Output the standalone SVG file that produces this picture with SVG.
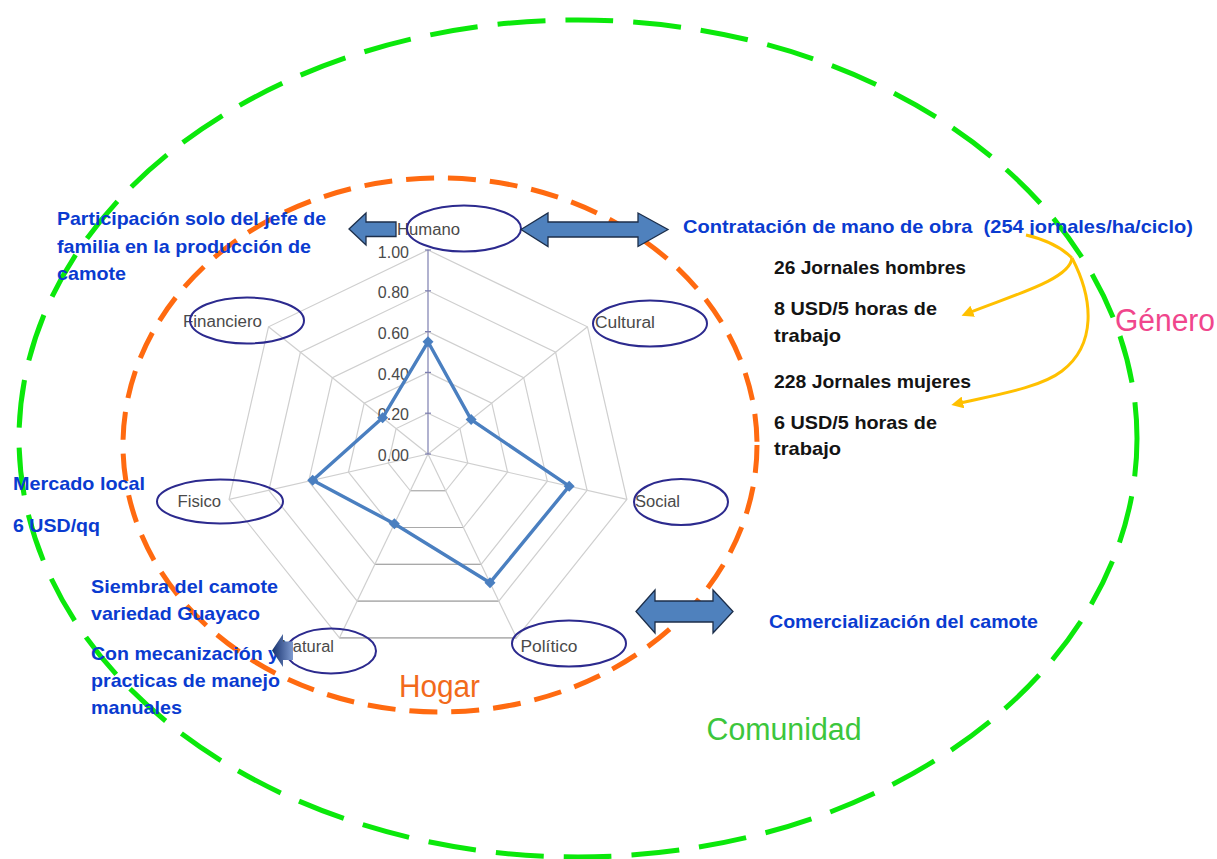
<svg xmlns="http://www.w3.org/2000/svg" width="1217" height="859" viewBox="0 0 1217 859">
  <style>
    .bg { fill: #ffffff; }
    .ring-green { fill: none; stroke: #0be80b; stroke-width: 5; stroke-dasharray: 48 20; }
    .ring-orange { fill: none; stroke: #ff6a10; stroke-width: 5; stroke-dasharray: 28 14; }
    .grid { fill: none; stroke: #cfcfcf; stroke-width: 1.2; }
    .grid-low { fill: none; stroke: #a9a9a9; stroke-width: 1.2; }
    .axis { stroke: #7d7fb0; stroke-width: 1.2; }
    .tick { font-family: "Liberation Sans", Arial, sans-serif; font-size: 16px; fill: #4a4a4a; text-anchor: end; }
    .cat-oval { fill: none; stroke: #2c2a8e; stroke-width: 2; }
    .cat { font-family: "Liberation Sans", Arial, sans-serif; font-size: 16px; fill: #4a4a4a; }
    .series { fill: none; stroke: #4a7fc0; stroke-width: 3.4; stroke-linejoin: round; }
    .pt { fill: #4a7fc0; }
    .note { font-family: "Liberation Sans", Arial, sans-serif; font-size: 18.5px; font-weight: bold; fill: #0a3bd0; }
    .dark { font-family: "Liberation Sans", Arial, sans-serif; font-size: 18.5px; font-weight: bold; fill: #141414; }
    .big { font-family: "Liberation Sans", Arial, sans-serif; font-size: 31px; }
    .block { fill: #4f81bd; stroke: #1c2e4a; stroke-width: 1.3; stroke-linejoin: miter; }
    .curve { fill: none; stroke: #ffc000; stroke-width: 3; }
  </style>
  <defs>
    <marker id="gold-head" viewBox="0 0 10 10" refX="6" refY="5" markerWidth="4" markerHeight="4" orient="auto-start-reverse">
      <path d="M0,0 L10,5 L0,10 z" fill="#ffc000"/>
    </marker>
    <linearGradient id="small-arrow" x1="0" y1="0" x2="1" y2="0">
      <stop offset="0" stop-color="#15306c"/>
      <stop offset="1" stop-color="#7e9ad0"/>
    </linearGradient>
    <path id="diamond" d="M0,-5.5 L5.5,0 L0,5.5 L-5.5,0 Z"/>
  </defs>

  <rect class="bg" x="0" y="0" width="1217" height="859"/>

  <!-- community and household boundaries -->
  <g id="comunidad-boundary">
    <ellipse class="ring-green" cx="578" cy="438.5" rx="559" ry="418.5" stroke-dashoffset="10"/>
  </g>
  <g id="hogar-boundary">
    <ellipse class="ring-orange" cx="440" cy="445" rx="317" ry="267"/>
  </g>

  <!-- radar chart: grid rings, spokes, value axis -->
  <g id="radar-grid">
    <polygon class="grid" points="428,413.2 459.9,428.56 467.78,463.08 445.7,490.76 410.3,490.76 388.22,463.08 396.1,428.56"/>
    <polygon class="grid" points="428,372.4 491.8,403.12 507.56,472.16 463.4,527.52 392.6,527.52 348.44,472.16 364.2,403.12"/>
    <polygon class="grid" points="428,331.6 523.69,377.69 547.33,481.23 481.11,564.28 374.89,564.28 308.67,481.23 332.31,377.69"/>
    <polygon class="grid" points="428,290.8 555.59,352.25 587.11,490.31 498.81,601.04 357.19,601.04 268.89,490.31 300.41,352.25"/>
    <polygon class="grid" points="428,250 587.49,326.81 626.89,499.39 516.51,637.8 339.49,637.8 229.11,499.39 268.51,326.81"/>
    <line class="grid-low" x1="410.3" y1="490.76" x2="445.7" y2="490.76"/>
    <line class="grid-low" x1="392.6" y1="527.52" x2="463.4" y2="527.52"/>
    <line class="grid-low" x1="374.89" y1="564.28" x2="481.11" y2="564.28"/>
    <line class="grid-low" x1="357.19" y1="601.04" x2="498.81" y2="601.04"/>
    <line class="grid-low" x1="339.49" y1="637.8" x2="516.51" y2="637.8"/>
    <line class="grid" x1="428" y1="454" x2="587.49" y2="326.81"/>
    <line class="grid" x1="428" y1="454" x2="626.89" y2="499.39"/>
    <line class="grid" x1="428" y1="454" x2="516.51" y2="637.8"/>
    <line class="grid" x1="428" y1="454" x2="339.49" y2="637.8"/>
    <line class="grid" x1="428" y1="454" x2="229.11" y2="499.39"/>
    <line class="grid" x1="428" y1="454" x2="268.51" y2="326.81"/>
    <line class="axis" x1="428" y1="454" x2="428" y2="250"/>
    <g class="axis">
      <line x1="425" y1="250" x2="431" y2="250"/>
      <line x1="425" y1="290.8" x2="431" y2="290.8"/>
      <line x1="425" y1="331.6" x2="431" y2="331.6"/>
      <line x1="425" y1="372.4" x2="431" y2="372.4"/>
      <line x1="425" y1="413.2" x2="431" y2="413.2"/>
      <line x1="425" y1="454" x2="431" y2="454"/>
    </g>
    <text class="tick" x="409" y="257.5">1.00</text>
    <text class="tick" x="409" y="298">0.80</text>
    <text class="tick" x="409" y="338.5">0.60</text>
    <text class="tick" x="409" y="379.5">0.40</text>
    <text class="tick" x="409" y="420">0.20</text>
    <text class="tick" x="409" y="461">0.00</text>
  </g>

  <!-- data series -->
  <g id="radar-series">
    <polygon class="series" points="428,341.8 471.1,419.6 569.2,486.2 490,582.7 394.4,523.8 312.7,480.3 382.6,417.8"/>
    <use href="#diamond" class="pt" x="428" y="341.8"/>
    <use href="#diamond" class="pt" x="471.1" y="419.6"/>
    <use href="#diamond" class="pt" x="569.2" y="486.2"/>
    <use href="#diamond" class="pt" x="490" y="582.7"/>
    <use href="#diamond" class="pt" x="394.4" y="523.8"/>
    <use href="#diamond" class="pt" x="312.7" y="480.3"/>
    <use href="#diamond" class="pt" x="382.6" y="417.8"/>
  </g>

  <!-- capital categories -->
  <g id="cat-humano">
    <text class="cat" x="397" y="235" textLength="63" lengthAdjust="spacingAndGlyphs">Humano</text>
    <ellipse class="cat-oval" cx="464" cy="228.5" rx="57" ry="23"/>
  </g>
  <g id="cat-cultural">
    <text class="cat" x="595" y="327.5" textLength="60" lengthAdjust="spacingAndGlyphs">Cultural</text>
    <ellipse class="cat-oval" cx="650" cy="323.5" rx="57" ry="23"/>
  </g>
  <g id="cat-social">
    <text class="cat" x="635" y="507" textLength="45" lengthAdjust="spacingAndGlyphs">Social</text>
    <ellipse class="cat-oval" cx="681" cy="502" rx="47" ry="23"/>
  </g>
  <g id="cat-politico">
    <text class="cat" x="520.5" y="652" textLength="57" lengthAdjust="spacingAndGlyphs">Político</text>
    <ellipse class="cat-oval" cx="569" cy="643.5" rx="57" ry="23"/>
  </g>
  <g id="cat-natural">
    <text class="cat" x="281" y="652" textLength="53" lengthAdjust="spacingAndGlyphs">Natural</text>
    <ellipse class="cat-oval" cx="331" cy="651" rx="45" ry="22.5"/>
  </g>
  <g id="cat-fisico">
    <text class="cat" x="177.5" y="507" textLength="43.5" lengthAdjust="spacingAndGlyphs">Fisico</text>
    <ellipse class="cat-oval" cx="220" cy="501.5" rx="63" ry="22"/>
  </g>
  <g id="cat-financiero">
    <text class="cat" x="183" y="327" textLength="79" lengthAdjust="spacingAndGlyphs">Financiero</text>
    <ellipse class="cat-oval" cx="247" cy="320.5" rx="57" ry="23"/>
  </g>

  <!-- annotations -->
  <g id="note-participacion">
    <text class="note" x="57" y="225" textLength="269" lengthAdjust="spacingAndGlyphs">Participación solo del jefe de</text>
    <text class="note" x="57" y="253" textLength="254" lengthAdjust="spacingAndGlyphs">familia en la producción de</text>
    <text class="note" x="57" y="280" textLength="69" lengthAdjust="spacingAndGlyphs">camote</text>
  </g>
  <g id="note-contratacion">
    <text class="note" x="683" y="233" textLength="510" lengthAdjust="spacingAndGlyphs" style="white-space:pre">Contratación de mano de obra  (254 jornales/ha/ciclo)</text>
  </g>
  <g id="note-hombres">
    <text class="dark" x="774" y="274" textLength="192" lengthAdjust="spacingAndGlyphs">26 Jornales hombres</text>
    <text class="dark" x="774" y="315" textLength="163" lengthAdjust="spacingAndGlyphs">8 USD/5 horas de</text>
    <text class="dark" x="774" y="342" textLength="67" lengthAdjust="spacingAndGlyphs">trabajo</text>
  </g>
  <g id="note-mujeres">
    <text class="dark" x="774" y="388" textLength="197" lengthAdjust="spacingAndGlyphs">228 Jornales mujeres</text>
    <text class="dark" x="774" y="429" textLength="163" lengthAdjust="spacingAndGlyphs">6 USD/5 horas de</text>
    <text class="dark" x="774" y="455" textLength="67" lengthAdjust="spacingAndGlyphs">trabajo</text>
  </g>
  <g id="note-mercado">
    <text class="note" x="13" y="490" textLength="132" lengthAdjust="spacingAndGlyphs">Mercado local</text>
    <text class="note" x="13" y="532" textLength="87" lengthAdjust="spacingAndGlyphs">6 USD/qq</text>
  </g>
  <g id="note-siembra">
    <text class="note" x="91" y="593" textLength="187" lengthAdjust="spacingAndGlyphs">Siembra del camote</text>
    <text class="note" x="91" y="620" textLength="169" lengthAdjust="spacingAndGlyphs">variedad Guayaco</text>
    <text class="note" x="91" y="659.5" textLength="188" lengthAdjust="spacingAndGlyphs">Con mecanización y</text>
    <text class="note" x="91" y="687" textLength="189" lengthAdjust="spacingAndGlyphs">practicas de manejo</text>
    <text class="note" x="91" y="713.5" textLength="91" lengthAdjust="spacingAndGlyphs">manuales</text>
  </g>
  <g id="note-comercializacion">
    <text class="note" x="769" y="628" textLength="269" lengthAdjust="spacingAndGlyphs">Comercialización del camote</text>
  </g>

  <!-- level labels -->
  <g id="label-genero">
    <text class="big" x="1115" y="331" fill="#f0468c" textLength="100" lengthAdjust="spacingAndGlyphs">Género</text>
  </g>
  <g id="label-hogar">
    <text class="big" x="399" y="697" fill="#f26a1b" textLength="81" lengthAdjust="spacingAndGlyphs">Hogar</text>
  </g>
  <g id="label-comunidad">
    <text class="big" x="706.5" y="740" fill="#3cc63c" textLength="155" lengthAdjust="spacingAndGlyphs">Comunidad</text>
  </g>

  <!-- connectors -->
  <g id="connectors">
    <path class="block" d="M349,229 L366,213 L366,222 L396,222 L396,236.5 L366,236.5 L366,245 Z"/>
    <path class="block" d="M521,229.5 L548,213 L548,222 L638,222 L638,213 L668,229.5 L638,246.5 L638,237 L548,237 L548,246.5 Z"/>
    <path class="block" d="M636,611.5 L655,590 L655,601 L713,601 L713,590 L733,611.5 L713,633 L713,622 L655,622 L655,633 Z"/>
    <path d="M272,650.5 L283,634 L283,641.5 L293,641.5 L293,660 L283,660 L283,667 Z" fill="url(#small-arrow)"/>
    <path class="curve" d="M1026,235 Q1056,242 1072,258"/>
    <path class="curve" d="M1072,258 C1070,280 1010,296 966,314" marker-end="url(#gold-head)"/>
    <path class="curve" d="M1072,258 C1094,300 1096,345 1062,371 C1040,388 995,395 956,404" marker-end="url(#gold-head)"/>
  </g>
</svg>
